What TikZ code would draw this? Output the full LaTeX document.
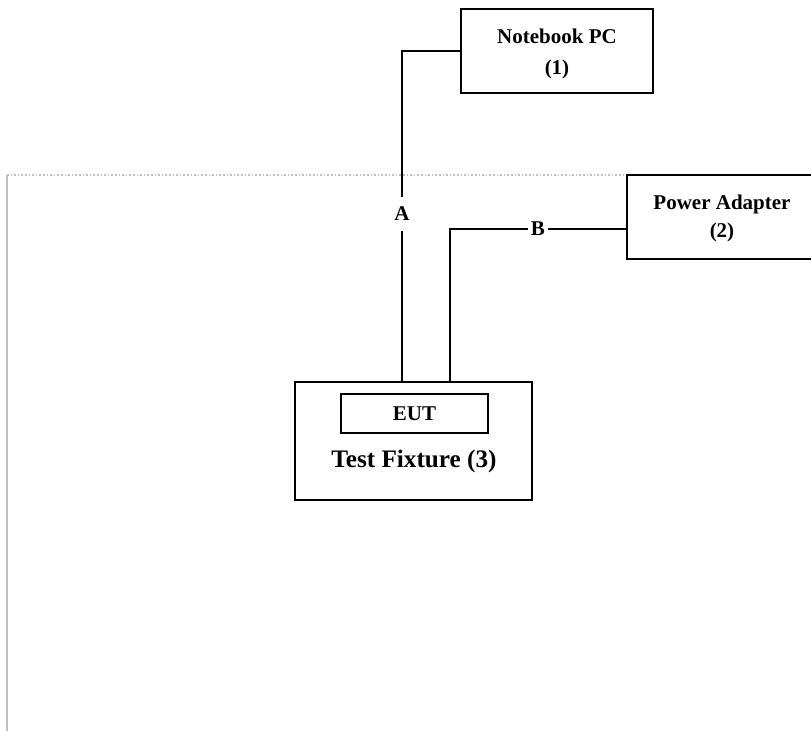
\documentclass[tikz,border=0pt]{standalone}
\usepackage{fontspec}
\setmainfont{Liberation Serif}
\begin{document}
\begin{tikzpicture}[x=0.5pt,y=-0.5pt,
  box/.style={draw=black,line width=1.1pt,fill=white,rectangle,inner sep=0pt,align=center,font=\bfseries\fontsize{10.5}{14.5}\selectfont},
  wire/.style={draw=black,line width=1pt},
  lbl/.style={fill=white,inner sep=1.5pt,font=\bfseries\fontsize{10.5}{12}\selectfont},
  frame/.style={draw=black!25,line width=0.8pt}]
\useasboundingbox (0,0) rectangle (811,731);
\coordinate (f1) at (7,731);
\coordinate (f2) at (7,175);
\coordinate (f3) at (811,175);
\draw[frame] (f1) -- (f2);
\draw[frame,densely dotted] (f2) -- (f3);
\node[box,minimum width=96pt,minimum height=42pt] (nb) at (557,51) {};
\node[font=\bfseries\fontsize{10.5}{15.5}\selectfont,align=center] (nbt) at (557,54) {Notebook PC\\(1)};
\node[box,minimum width=95pt,minimum height=42pt] (pa) at (722,217) {};
\node[font=\bfseries\fontsize{10.5}{14}\selectfont,align=center] (pat) at (722,218) {Power Adapter\\(2)};
\node[box,minimum width=118.5pt,minimum height=59pt] (tf) at (413.5,441) {};
\node[box,minimum width=73.5pt,minimum height=19.5pt] (eut) at (414.5,413.5) {EUT};
\node[font=\bfseries\fontsize{12.6}{14}\selectfont] (tft) at (414,461) {Test Fixture (3)};
\coordinate (a1) at (402,51);
\coordinate (a2) at (402,382);
\coordinate (b1) at (450,382);
\coordinate (b2) at (450,229);
\draw[wire] (nb.west) -- (a1) -- node[lbl,pos=0.492,inner ysep=5pt] (la) {A} (a2);
\draw[wire] (b1) -- (b2) -- node[lbl,pos=0.5] (lb) {B} ([yshift=-6pt]pa.west);
\end{tikzpicture}
\end{document}
